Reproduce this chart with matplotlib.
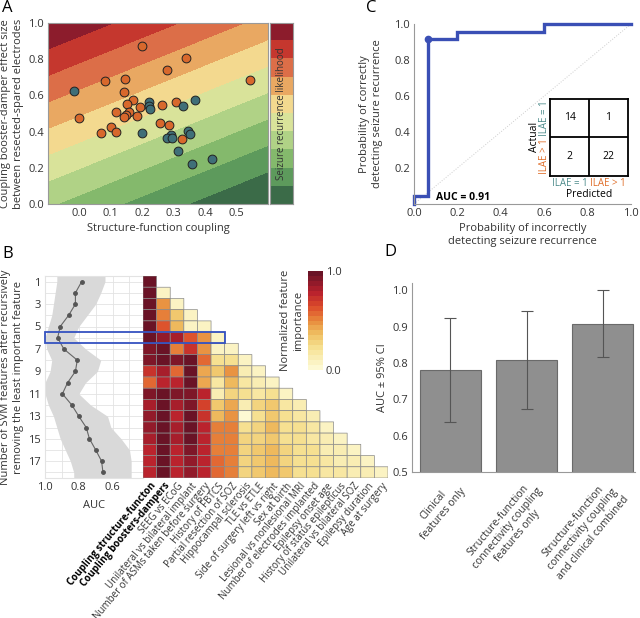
import numpy as np
import matplotlib
matplotlib.use('Agg')
import matplotlib.pyplot as plt
from matplotlib.colors import ListedColormap, LinearSegmentedColormap
from matplotlib.patches import Rectangle

plt.rcParams['font.family'] = ['Open Sans', 'DejaVu Sans']
plt.rcParams['font.size'] = 8
plt.rcParams['axes.edgecolor'] = '#999999'
plt.rcParams['xtick.color'] = '#333333'
plt.rcParams['ytick.color'] = '#333333'

# ---------------- Panel A data ----------------
good_x = [-0.017, 0.220, 0.220, 0.226, 0.329, 0.368, 0.198, 0.345, 0.352, 0.290,
          0.280, 0.295, 0.315, 0.359, 0.422]
good_y = [0.627, 0.563, 0.542, 0.524, 0.544, 0.576, 0.395, 0.402, 0.384, 0.380,
          0.362, 0.362, 0.293, 0.221, 0.251]
poor_x = [0.200, 0.338, 0.278, 0.542, 0.082, 0.145, 0.141, 0.171, 0.151, 0.192,
          0.116, 0.159, 0.148, 0.143, 0.184, 0.000, 0.262, 0.306, 0.255, 0.285,
          0.100, 0.070, 0.116, 0.325]
poor_y = [0.871, 0.806, 0.738, 0.686, 0.681, 0.692, 0.618, 0.574, 0.553, 0.535,
          0.507, 0.506, 0.493, 0.480, 0.487, 0.476, 0.548, 0.563, 0.448, 0.435,
          0.426, 0.395, 0.399, 0.360]
boundary_slope = 0.7
band_levels = [-2.0, -0.242, -0.096, 0.05, 0.196, 0.342, 0.488, 0.634, 0.78, 0.926, 3.0]
band_colors = ['#3b6b48', '#5d9a5c', '#84b96c', '#b0d286', '#d9e39a',
               '#f3d98f', '#e9a862', '#dc6e48', '#c5372e', '#8c1c2c']

# ---------------- Panel B data ----------------
n_features = list(range(1, 19))
auc_mean = [0.783, 0.82, 0.82, 0.86, 0.91, 0.925, 0.889, 0.809, 0.82, 0.866,
            0.897, 0.841, 0.80, 0.756, 0.737, 0.70, 0.665, 0.657]
auc_upper = [0.93, 0.94, 0.95, 0.96, 0.98, 1.0, 0.99, 0.96, 0.97, 1.0,
             1.0, 0.98, 0.95, 0.93, 0.91, 0.88, 0.85, 0.83]
auc_lower = [0.645, 0.67, 0.70, 0.75, 0.80, 0.83, 0.76, 0.67, 0.69, 0.76,
             0.80, 0.73, 0.63, 0.61, 0.55, 0.50, 0.49, 0.49]
feature_names = ['Coupling structure-functon', 'Coupling boosters-dampers', 'SEEG vs ECoG',
                 'Unilateral vs bilateral implant', 'Number of ASMs taken before surgery',
                 'History of FBTCS', 'Partial resection of SOZ', 'Hippocampal sclerosis',
                 'TLE vs ETLE', 'Side of surgery left vs right', 'Sex at birth',
                 'Lesional vs nonlesional MRI', 'Number of electrodes implanted',
                 'Epilepsy onset age', 'History of status epilepticus',
                 'Unilateral vs bilateral SOZ', 'Epilepsy duration', 'Age at surgery']
importance = [
    [1.0],
    [1.0, 0.08],
    [1.0, 0.45, 0.08],
    [1.0, 0.5, 0.3, 0.08],
    [1.0, 0.62, 0.35, 0.08, 0.05],
    [0.95, 0.85, 0.8, 0.6, 0.45, 0.08],
    [0.9, 0.96, 0.5, 0.72, 0.45, 0.08, 0.05],
    [0.9, 0.95, 0.9, 0.98, 0.55, 0.2, 0.2, 0.05],
    [0.7, 0.8, 0.55, 0.98, 0.4, 0.3, 0.45, 0.1, 0.05],
    [0.55, 0.75, 0.75, 0.98, 0.4, 0.15, 0.35, 0.15, 0.1, 0.05],
    [0.9, 0.95, 0.9, 0.9, 0.75, 0.1, 0.25, 0.2, 0.15, 0.2, 0.05],
    [0.8, 0.97, 0.82, 0.9, 0.65, 0.32, 0.4, 0.12, 0.28, 0.3, 0.15, 0.1],
    [0.85, 0.97, 0.75, 0.98, 0.7, 0.35, 0.45, 0.02, 0.2, 0.3, 0.2, 0.15, 0.1],
    [0.85, 0.97, 0.8, 0.97, 0.75, 0.5, 0.5, 0.2, 0.25, 0.35, 0.2, 0.2, 0.15, 0.05],
    [0.8, 0.97, 0.8, 0.97, 0.75, 0.5, 0.5, 0.25, 0.25, 0.3, 0.2, 0.2, 0.15, 0.1, 0.05],
    [0.75, 0.97, 0.75, 0.9, 0.75, 0.5, 0.5, 0.25, 0.3, 0.35, 0.25, 0.2, 0.2, 0.1, 0.1, 0.05],
    [0.75, 0.95, 0.75, 0.88, 0.75, 0.55, 0.5, 0.25, 0.3, 0.35, 0.25, 0.2, 0.2, 0.15, 0.1, 0.1, 0.05],
    [0.75, 0.95, 0.75, 0.88, 0.75, 0.55, 0.5, 0.25, 0.3, 0.35, 0.3, 0.2, 0.2, 0.15, 0.15, 0.1, 0.1, 0.05],
]
selected_row = 6

# ---------------- Panel C data ----------------
roc_fpr = [0.0, 0.0, 0.0667, 0.0667, 0.2, 0.2, 0.6, 0.6, 1.0]
roc_tpr = [0.0, 0.042, 0.042, 0.917, 0.917, 0.958, 0.958, 1.0, 1.0]
op_fpr, op_tpr = 0.0667, 0.917
auc_text = 'AUC = 0.91'
conf_matrix = [[14, 1], [2, 22]]
class_labels = ['ILAE = 1', 'ILAE > 1']

# ---------------- Panel D data ----------------
model_names = ['Clinical\nfeatures only',
               'Structure-function\nconnectivity coupling\nfeatures only',
               'Structure-function\nconnectivity coupling\nand clinical combined']
model_auc = [0.780, 0.808, 0.908]
ci_low = [0.637, 0.673, 0.816]
ci_high = [0.924, 0.943, 1.0]

TEAL = '#3f6f78'
ORANGE = '#d8682c'
TEAL_T = '#4e8c8c'
ORANGE_T = '#e0702c'
LAB = 8

W, H = 640, 618
fig = plt.figure(figsize=(W / 100, H / 100), dpi=100)

def pos(x0, y0, x1, y1):
    return [x0 / W, 1 - y1 / H, (x1 - x0) / W, (y1 - y0) / H]

# ================= Panel A =================
axA = fig.add_axes(pos(48, 23, 268, 204))
xg = np.linspace(-0.1, 0.6, 200)
yg = np.linspace(0, 1, 200)
XX, YY = np.meshgrid(xg, yg)
ZZ = YY - boundary_slope * XX
axA.contourf(XX, YY, ZZ, levels=band_levels, colors=band_colors)
axA.scatter(poor_x, poor_y, s=40, c=ORANGE, edgecolors='#222222', linewidths=0.7, zorder=3)
axA.scatter(good_x, good_y, s=40, c=TEAL, edgecolors='#222222', linewidths=0.7, zorder=3)
axA.set_xlim(-0.1, 0.6)
axA.set_ylim(0, 1)
axA.set_xticks([0.0, 0.1, 0.2, 0.3, 0.4, 0.5])
axA.set_yticks([0.0, 0.2, 0.4, 0.6, 0.8, 1.0])
axA.tick_params(length=0, labelsize=8, pad=3)
axA.set_xlabel('Structure-function coupling', fontsize=LAB, color='#333333', labelpad=3)
axA.set_ylabel('Coupling booster-damper effect size\nbetween resected-spared electrodes',
               fontsize=LAB, color='#333333', labelpad=3)

axAc = fig.add_axes(pos(270, 23, 293, 204))
axAc.imshow(np.arange(len(band_colors))[::-1].reshape(-1, 1), aspect='auto',
            cmap=ListedColormap(band_colors), extent=(0, 1, 0, len(band_colors)))
axAc.set_xticks([])
axAc.set_yticks([])
axAc.text(0.5, 0.5, 'Seizure recurrence likelihood', rotation=90, ha='center', va='center',
          transform=axAc.transAxes, fontsize=7, color='#333333')

# ================= Panel B =================
axB = fig.add_axes(pos(45, 276, 143, 478))
band_rows = [n_features[0] - 0.5] + n_features + [n_features[-1] + 0.5]
band_lo = [auc_lower[0]] + auc_lower + [auc_lower[-1]]
band_hi = [auc_upper[0]] + auc_upper + [auc_upper[-1]]
axB.fill_betweenx(band_rows, band_lo, band_hi, color='#d9d9d9', lw=0, zorder=1)
axB.plot(auc_mean, n_features, color='#666666', lw=0.8, marker='o', ms=2.5,
         mfc='#555555', mec='#555555', zorder=3)
axB.set_xlim(1.0, 0.42)
axB.set_ylim(18.5, 0.5)
axB.set_yticks(n_features)
axB.set_yticklabels([str(n) if n % 2 == 1 else '' for n in n_features])
axB.set_xticks([1.0, 0.9, 0.8, 0.7, 0.6, 0.5])
axB.set_xticklabels(['1.0', '', '0.8', '', '0.6', ''])
axB.grid(True, color='#e3e3e3', lw=0.6, zorder=0)
axB.set_axisbelow(True)
axB.tick_params(length=0, labelsize=8, pad=3)
for s in axB.spines.values():
    s.set_color('#e3e3e3')
axB.set_xlabel('AUC', fontsize=LAB, color='#333333', labelpad=5)
axB.set_ylabel('Number of SVM features after recursively\nremoving the least important feature',
               fontsize=LAB, color='#333333', labelpad=3)

axH = fig.add_axes(pos(143, 276, 388, 478))
nf = len(feature_names)
mat = np.full((len(importance), nf), np.nan)
for i, row in enumerate(importance):
    mat[i, :len(row)] = row
mat = np.ma.masked_invalid(mat)
hm_base = LinearSegmentedColormap.from_list('imp', [
    (0.0, '#fdf9d3'), (0.2, '#f6e294'), (0.35, '#efc062'), (0.5, '#e88a3c'),
    (0.65, '#dc4b2b'), (0.8, '#b8212d'), (1.0, '#6a1326')])
hm_cmap = ListedColormap(hm_base(np.linspace(0, 1, 20)))
xe = np.arange(nf + 1)
ye = np.arange(len(importance) + 1) + 0.5
pc = axH.pcolor(xe, ye, mat, cmap=hm_cmap, vmin=0, vmax=1, edgecolors='#8a8a8a', linewidths=0.5)
axH.set_xlim(0, nf)
axH.set_ylim(18.5, 0.5)
axH.set_yticks([])
axH.set_xticks(np.arange(nf) + 0.5)
axH.set_xticklabels(feature_names, rotation=50, ha='right', rotation_mode='anchor', fontsize=7)
for k, lab in enumerate(axH.get_xticklabels()):
    if k < 2:
        lab.set_fontweight('bold')
        lab.set_color('black')
axH.tick_params(length=0, pad=2)
for s in axH.spines.values():
    s.set_visible(False)

# highlight rectangle for selected model
x_left_fig = axB.transAxes.transform((0, 0))[0]
x_left = axH.transData.inverted().transform((x_left_fig, 0))[0]
axH.add_patch(Rectangle((x_left, selected_row - 0.5), selected_row - x_left, 1.0, fill=False,
                        edgecolor='#3552c0', lw=1.3, clip_on=False, zorder=5))

axBc = fig.add_axes(pos(308, 271, 323, 370))
cb = fig.colorbar(pc, cax=axBc, ticks=[0, 1])
cb.ax.set_yticklabels(['0.0', '1.0'])
cb.ax.tick_params(length=0, labelsize=8, pad=2)
cb.outline.set_visible(False)
cb.ax.yaxis.set_label_position('left')
cb.set_label('Normalized feature\nimportance', fontsize=LAB, color='#333333', labelpad=3)

# ================= Panel C =================
axC = fig.add_axes(pos(414, 24, 631, 204))
axC.plot([0, 1], [0, 1], color='#cccccc', lw=0.7, ls=':')
axC.plot(roc_fpr, roc_tpr, color='#3a4fb5', lw=2.4, clip_on=False, solid_joinstyle='miter')
axC.plot([op_fpr], [op_tpr], 'o', color='#3a4fb5', ms=4.5, zorder=4)
axC.set_xlim(0, 1)
axC.set_ylim(0, 1)
axC.set_xticks([0.0, 0.2, 0.4, 0.6, 0.8, 1.0])
axC.set_yticks([0.2, 0.4, 0.6, 0.8, 1.0])
axC.tick_params(length=0, labelsize=8, pad=3)
axC.spines['top'].set_visible(False)
axC.spines['right'].set_visible(False)
axC.text(0.1, 0.035, auc_text, fontsize=7.5, fontweight='bold', ha='left', va='center')
axC.set_xlabel('Probability of incorrectly\ndetecting seizure recurrence', fontsize=LAB,
               color='#333333', labelpad=3)
axC.set_ylabel('Probability of correctly\ndetecting seizure recurrence', fontsize=LAB,
               color='#333333', labelpad=8)

axM = axC.inset_axes([0.627, 0.157, 0.358, 0.428], transform=axC.transData)
axM.set_xlim(0, 2)
axM.set_ylim(2, 0)
axM.axhline(1, color='black', lw=1.3)
axM.axvline(1, color='black', lw=1.3)
for r in range(2):
    for c in range(2):
        axM.text(c + 0.5, r + 0.5, str(conf_matrix[r][c]), ha='center', va='center', fontsize=7.5)
axM.set_xticks([])
axM.set_yticks([])
for s in axM.spines.values():
    s.set_color('black')
    s.set_linewidth(1.3)
colors_cls = [TEAL_T, ORANGE_T]
for k in range(2):
    axM.text(0.25 + 0.5 * k, -0.1, class_labels[k], transform=axM.transAxes, ha='center',
             va='center', fontsize=7, color=colors_cls[k])
    axM.text(-0.07, 0.75 - 0.5 * k, class_labels[k], transform=axM.transAxes, ha='center',
             va='center', fontsize=7, color=colors_cls[k], rotation=90)
axM.text(0.5, -0.24, 'Predicted', transform=axM.transAxes, ha='center', va='center', fontsize=7.5)
axM.text(-0.2, 0.5, 'Actual', transform=axM.transAxes, ha='center', va='center', fontsize=7.5,
         rotation=90)

# ================= Panel D =================
axD = fig.add_axes(pos(412, 283, 635, 472))
xpos = np.arange(len(model_auc))
err = [np.array(model_auc) - np.array(ci_low), np.array(ci_high) - np.array(model_auc)]
axD.bar(xpos, model_auc, width=0.8, color='#8f8f8f', edgecolor='#6a6a6a', lw=0.8)
axD.errorbar(xpos, model_auc, yerr=err, fmt='none', ecolor='#555555', elinewidth=0.8,
             capsize=4, capthick=0.8)
axD.set_xlim(-0.5, 2.42)
axD.set_ylim(0.5, 1.02)
axD.set_yticks([0.5, 0.6, 0.7, 0.8, 0.9, 1.0])
axD.set_xticks(xpos)
axD.set_xticklabels(model_names, rotation=50, ha='right', rotation_mode='anchor',
                    multialignment='center', fontsize=7.5)
axD.tick_params(length=0, labelsize=8, pad=3)
axD.tick_params(axis='x', labelsize=7.5, pad=4)
axD.spines['top'].set_visible(False)
axD.spines['right'].set_visible(False)
axD.set_ylabel('AUC ± 95% CI', fontsize=LAB, color='#333333', labelpad=3)

# panel letters
for letter, (px, py) in {'A': (2, 0), 'B': (2, 246), 'C': (366, 0), 'D': (384, 244)}.items():
    fig.text(px / W, 1 - py / H, letter, fontsize=12, ha='left', va='top')

fig.savefig('out.png', dpi=100)
